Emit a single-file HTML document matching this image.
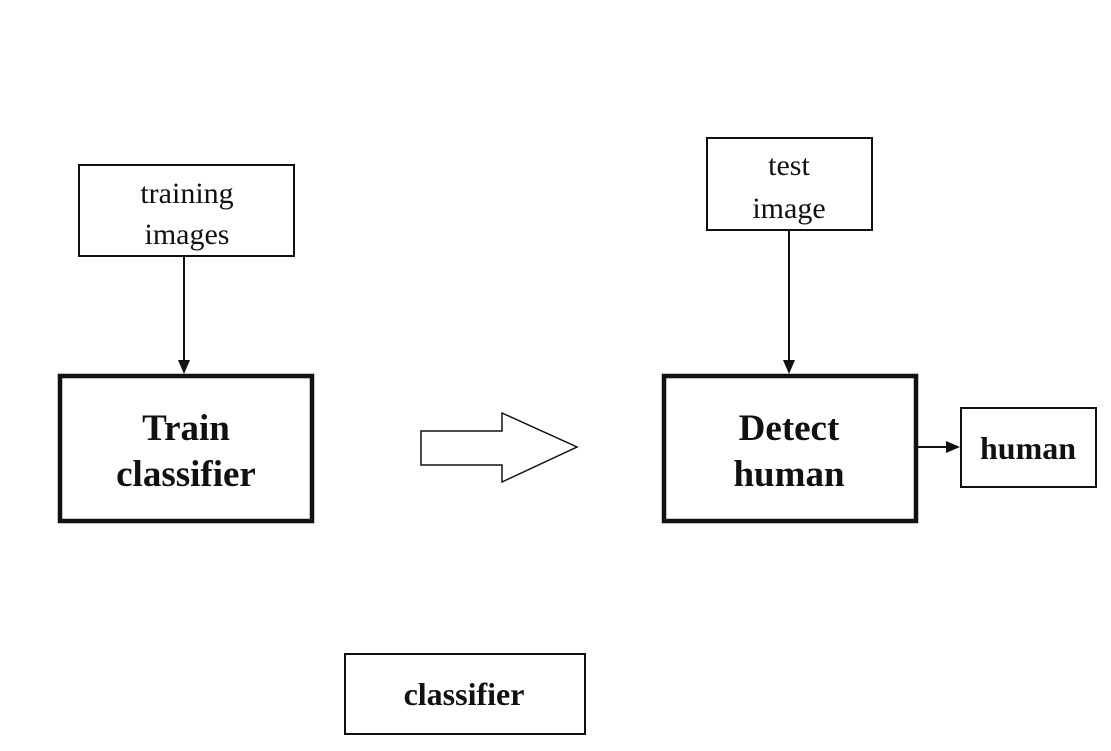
<!DOCTYPE html>
<html><head><style>body{margin:0;background:#fff}</style></head><body>
<svg width="1111" height="751" xmlns="http://www.w3.org/2000/svg" style="display:block">
<g fill="none" stroke="#111">
<rect x="79" y="165" width="215" height="91" stroke-width="2"/>
<rect x="60" y="376" width="252" height="145" stroke-width="4.5"/>
<rect x="707" y="138" width="165" height="92" stroke-width="2"/>
<rect x="664" y="376" width="252" height="145" stroke-width="4.5"/>
<rect x="961" y="408" width="135" height="79" stroke-width="2"/>
<rect x="345" y="654" width="240" height="80" stroke-width="2"/>
<line x1="184" y1="256" x2="184" y2="362" stroke-width="2"/>
<line x1="789" y1="230" x2="789" y2="362" stroke-width="2"/>
<line x1="917" y1="447" x2="948" y2="447" stroke-width="2"/>
<polygon points="421,431 502,431 502,413 577,447 502,482 502,465 421,465" stroke-width="1.5"/>
</g>
<g fill="#111">
<polygon points="178,360 190,360 184,374"/>
<polygon points="783,360 795,360 789,374"/>
<polygon points="946,441 946,453 960,447"/>
</g>
<g font-family="Liberation Serif, serif" text-anchor="middle" fill="#111">
<text x="187" y="203" font-size="30">training</text>
<text x="187" y="244" font-size="30">images</text>
<text x="789" y="175" font-size="30">test</text>
<text x="789" y="218" font-size="30">image</text>
<g font-weight="bold">
<text x="186" y="440" font-size="37">Train</text>
<text x="186" y="486" font-size="37">classifier</text>
<text x="789" y="440" font-size="37">Detect</text>
<text x="789" y="486" font-size="37">human</text>
<text x="1028" y="459" font-size="32">human</text>
<text x="464" y="705" font-size="32">classifier</text>
</g>
</g>
</svg>
</body></html>
